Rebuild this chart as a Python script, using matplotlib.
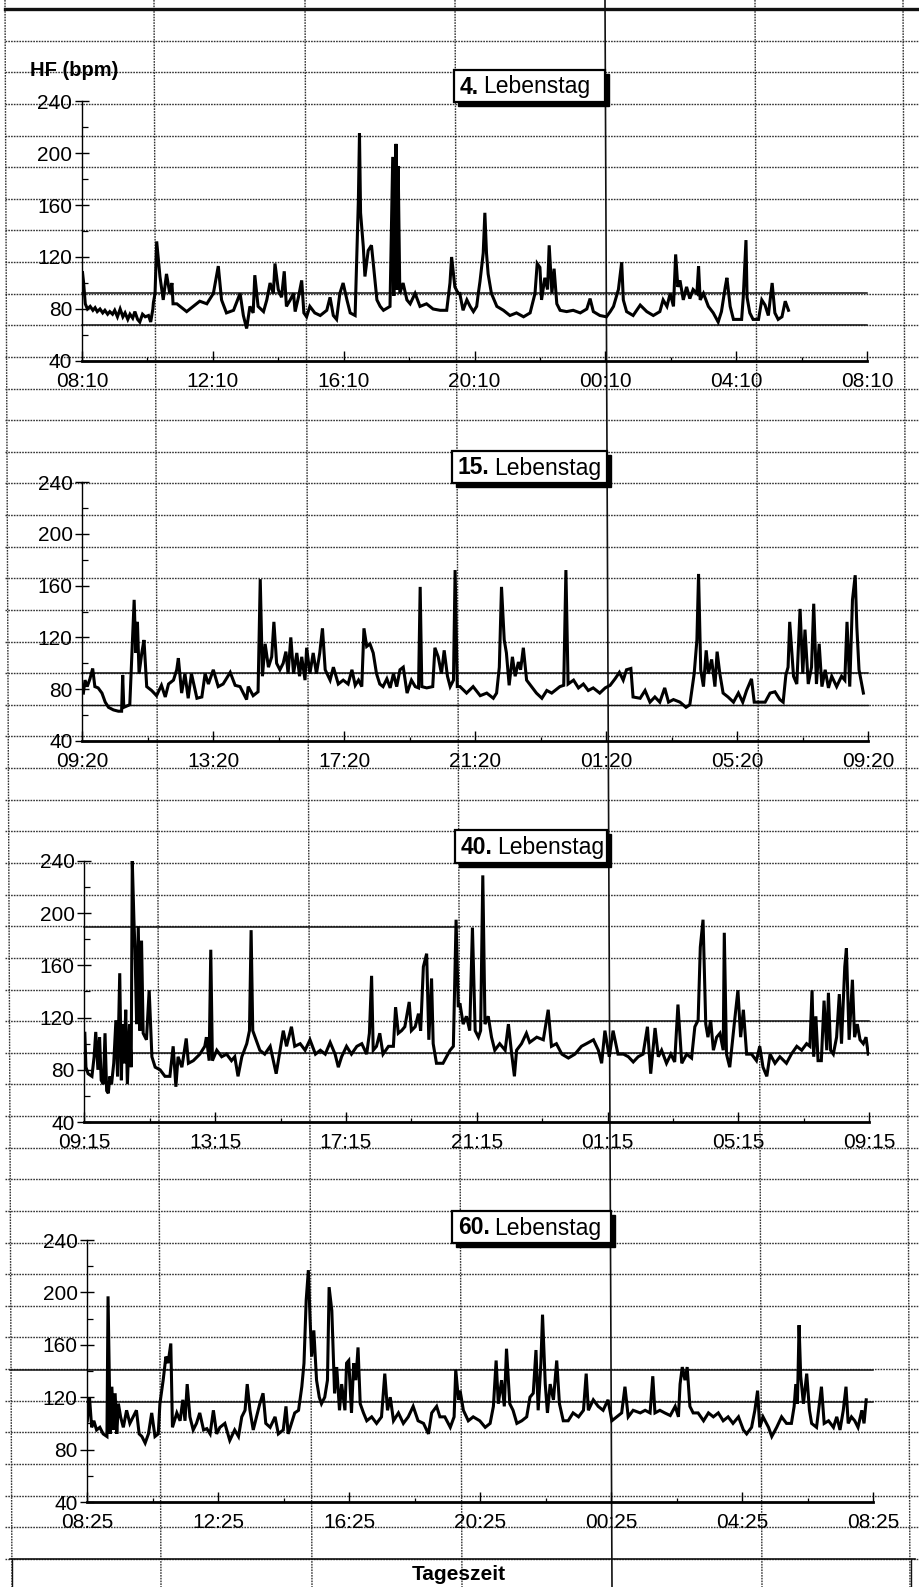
import matplotlib
matplotlib.use("Agg")
import matplotlib.pyplot as plt
from matplotlib.patches import Rectangle

plt.rcParams['font.family'] = ['Liberation Sans', 'DejaVu Sans']

# ---------------- data (minutes after recording start, heart rate in bpm) ----------------
day1_t = [1, 3, 6, 10, 15, 20, 24, 28, 33, 38, 42, 47, 51, 56, 60, 65, 70, 75, 79, 84,
          88, 93, 97, 102, 106, 111, 116, 122, 126, 130,
          131, 134, 137, 143, 149, 155, 161, 165, 167, 174,
          186, 192, 204, 216, 229, 241, 250, 256, 265, 278, 290, 296, 302, 308, 314, 317, 323, 333, 339, 345,
          351, 354, 360, 366, 371, 375, 382, 388, 391, 397, 403, 407, 412, 418, 427, 437, 449, 455, 461, 467,
          473, 479, 486, 492, 501, 507, 509, 511, 516, 519, 525, 531, 538, 541, 547, 553, 565, 570, 572, 573,
          575, 576, 578, 580, 583, 589, 596, 602, 611, 620, 632, 644, 657, 669, 675, 678, 684, 690,
          693, 699, 706, 712, 718, 724, 727, 730, 736, 739, 742, 745, 751, 761, 773, 785, 797, 810, 822, 831,
          835, 840, 843, 849, 854, 857, 862, 866, 871, 877, 889, 901, 914, 926, 932, 938, 950, 962, 969, 975,
          984, 990, 993, 999, 1011, 1024, 1036, 1048, 1060, 1066, 1073, 1079, 1085, 1089, 1093, 1097, 1103, 1109,
          1115, 1121, 1128, 1131, 1134, 1140, 1149, 1158, 1167, 1173, 1180, 1183, 1189, 1195, 1201, 1210, 1213,
          1218, 1220, 1225, 1231, 1241, 1247, 1253, 1259, 1266, 1271, 1277, 1284, 1290, 1296]
day1_hf = [108, 100, 84, 80, 82, 79, 81, 78, 80, 77, 79, 76, 78, 76, 79, 74, 80, 74, 77, 72,
           76, 73, 78, 72, 70, 76, 74, 75, 70, 80,
           85, 92, 132, 105, 87, 107, 92, 100, 84, 84,
           80, 78, 82, 86, 84, 92, 113, 87, 77, 79, 92, 75, 65, 82, 77, 106, 82, 78, 87, 100,
           92, 115, 95, 89, 109, 82, 87, 92, 78, 89, 102, 77, 74, 82, 77, 75, 79, 89, 75, 72,
           92, 100, 87, 77, 75, 164, 215, 154, 128, 105, 125, 129, 100, 87, 82, 79, 82, 197, 90, 195,
           100, 207, 95, 190, 92, 100, 87, 84, 92, 82, 84, 80, 79, 79, 100, 120, 97, 92,
           92, 79, 87, 82, 78, 82, 92, 101, 123, 154, 123, 107, 92, 82, 79, 75, 77, 74, 77, 92,
           115, 112, 87, 104, 95, 129, 92, 111, 84, 79, 78, 79, 77, 80, 88, 78, 75, 74, 78, 82,
           95, 116, 87, 78, 75, 83, 78, 75, 78, 87, 82, 92, 82, 122, 97, 102, 87, 97,
           88, 95, 92, 113, 87, 92, 82, 77, 70, 78, 97, 104, 82, 72, 72, 72, 89,
           133, 89, 77, 72, 72, 87, 83, 75, 100, 77, 72, 74, 86, 79]

day15_t = [2, 5, 9, 14, 19, 23, 29, 36, 42, 48, 57, 66, 72, 74, 76, 87, 92, 95, 98, 101,
           104, 109, 113, 118, 127, 136, 145, 152, 158, 167, 173, 176, 182, 188, 194, 200, 210, 219, 225, 231,
           240, 249, 258, 271, 280, 289, 301, 304, 313, 322, 326, 330, 335, 341, 347, 351, 356, 362, 368, 373,
           377, 382, 387, 393, 398, 402, 408, 411, 417, 423, 429, 435, 440, 445, 454, 460, 469, 478, 487, 494,
           500, 506, 512, 516, 521, 527, 533, 539, 545, 551, 558, 564, 570, 576, 582, 588, 595, 603, 610, 616,
           619, 622, 631, 642, 646, 652, 658, 663, 669, 674, 680, 683, 687,
           692, 704, 716, 729, 741, 753, 759, 764, 768, 773, 777, 782, 788, 793, 799, 803, 808, 814, 823, 832,
           842, 851, 860, 875, 882, 886, 890, 900, 909, 918, 927, 936, 948, 958, 967, 976, 984, 991, 997, 1005,
           1009, 1022, 1031, 1040, 1049, 1058, 1067, 1074, 1083, 1095, 1106, 1113, 1121, 1126, 1129, 1133, 1138,
           1143, 1147, 1153, 1159, 1163, 1168, 1174, 1183, 1193, 1202, 1210, 1217, 1226, 1231, 1238, 1251, 1260,
           1269, 1278, 1284, 1289, 1293, 1296, 1303, 1309, 1315, 1320, 1324, 1330, 1336, 1340, 1345, 1350, 1355,
           1361, 1367, 1373, 1382, 1391, 1397, 1401, 1406, 1411, 1416, 1419, 1423, 1431]
day15_hf = [77, 87, 82, 88, 96, 82, 81, 77, 70, 66, 64, 63, 63, 91, 66, 68, 118, 149, 108, 132,
            92, 108, 118, 82, 79, 75, 83, 74, 84, 87, 95, 104, 77, 92, 73, 92, 73, 74, 92, 84,
            95, 82, 84, 93, 83, 82, 72, 82, 75, 78, 165, 90, 115, 97, 105, 132, 100, 95, 100, 109,
            92, 120, 92, 108, 90, 105, 87, 112, 92, 108, 92, 108, 127, 95, 87, 97, 84, 87, 84, 95,
            83, 87, 82, 127, 113, 115, 108, 92, 84, 82, 88, 81, 92, 82, 95, 97, 77, 87, 82, 81,
            159, 82, 81, 82, 112, 105, 92, 110, 90, 82, 87, 172, 82,
            82, 77, 82, 75, 77, 73, 77, 97, 159, 118, 108, 83, 105, 90, 101, 95, 112, 87, 82, 77,
            73, 79, 77, 82, 83, 172, 84, 87, 81, 84, 79, 81, 77, 81, 83, 88, 93, 87, 95, 96,
            74, 73, 79, 70, 74, 70, 81, 70, 72, 70, 66, 68, 92, 118, 169, 95, 82,
            110, 92, 103, 82, 109, 92, 77, 74, 70, 77, 70, 79, 88, 70, 70, 70, 77,
            78, 72, 70, 91, 97, 132, 90, 84, 142, 92, 126, 84, 97, 146, 84, 115, 82,
            95, 81, 90, 82, 90, 87, 132, 82, 149, 168, 128, 95, 77]

day40_t = [1, 3, 7, 14, 18, 21, 25, 28, 31, 35, 38, 41, 44, 47, 50, 54, 58, 61, 65, 68,
           70, 73, 76, 79, 83, 86, 88, 91, 93, 96, 99, 102, 105, 108, 114, 119, 124, 130, 139, 148,
           157, 163, 168, 172, 179, 187, 191, 200, 212, 221, 224, 229, 232, 235, 243, 252, 261, 270, 276, 282,
           289, 298, 303, 306, 309, 315, 322, 331, 341, 352, 359, 365, 371, 380, 386, 396, 405, 414, 424, 433,
           442, 451, 460, 466, 472, 481, 490, 500, 509, 518, 523, 527, 530, 536, 542, 548, 558, 567, 571, 576,
           582, 588, 596, 600, 607, 613, 617, 622, 628, 632, 637, 640, 646, 658, 671, 677, 682, 686,
           689, 695, 701, 707, 712, 717, 723, 727, 731, 735, 741, 747, 753, 762, 772, 778, 784, 789, 793, 802,
           811, 817, 830, 842, 851, 857, 866, 876, 888, 900, 912, 921, 934, 943, 949, 955, 963, 970, 979, 989,
           998, 1007, 1016, 1025, 1033, 1039, 1047, 1053, 1059, 1068, 1076, 1083, 1089, 1096, 1105, 1114, 1120,
           1126, 1130, 1135, 1140, 1144, 1149, 1154, 1160, 1166, 1172, 1174, 1178, 1184, 1193, 1199, 1204, 1209,
           1215, 1224, 1233, 1239, 1245, 1252, 1258, 1267, 1276, 1288, 1297, 1307, 1316, 1325, 1331, 1335, 1338,
           1342, 1346, 1352, 1357, 1362, 1365, 1369, 1374, 1380, 1385, 1389, 1395, 1398, 1403, 1409, 1413, 1418,
           1423, 1429, 1434, 1438]
day40_hf = [108, 82, 77, 75, 90, 109, 80, 105, 72, 69, 108, 64, 62, 75, 69, 85, 118, 75, 154, 72,
            115, 85, 126, 69, 115, 82, 240, 195, 172, 115, 190, 110, 179, 108, 103, 141, 90, 82, 80, 75,
            75, 98, 67, 90, 82, 104, 85, 87, 92, 98, 105, 87, 172, 87, 95, 90, 92, 87, 90, 75,
            90, 100, 110, 187, 110, 103, 95, 92, 98, 77, 95, 110, 98, 113, 98, 100, 95, 103, 92, 95,
            92, 101, 92, 82, 90, 98, 92, 98, 100, 92, 108, 152, 95, 98, 108, 92, 98, 98, 128, 108,
            110, 113, 132, 110, 113, 123, 110, 159, 169, 103, 150, 100, 85, 85, 95, 98, 195, 128,
            131, 115, 121, 110, 189, 110, 105, 110, 229, 115, 121, 105, 95, 100, 95, 115, 92, 75, 95, 100,
            108, 101, 105, 103, 126, 98, 100, 92, 89, 92, 98, 100, 103, 95, 85, 110, 90, 110, 92, 92,
            90, 86, 90, 92, 113, 77, 112, 90, 95, 85, 92, 86, 130, 85, 92, 89, 113,
            118, 174, 195, 115, 105, 118, 95, 105, 108, 95, 185, 92, 82, 118, 141, 105, 126,
            92, 92, 87, 98, 82, 75, 92, 85, 90, 85, 92, 98, 95, 100, 98, 141, 90,
            121, 87, 87, 133, 95, 139, 95, 92, 105, 138, 100, 159, 173, 103, 149, 105, 115,
            103, 100, 105, 92]

day60_t = [0, 4, 8, 12, 17, 23, 29, 36, 38, 42, 45, 48, 51, 54, 57, 61, 66, 72, 78, 84,
           90, 95, 100, 106, 112, 118, 124, 130, 133, 139, 144, 148, 153, 156, 164, 170, 175, 179, 183, 188,
           194, 200, 206, 213, 219, 225, 231, 237, 243, 252, 261, 270, 277, 283, 289, 293, 298, 304, 310, 316,
           322, 327, 335, 344, 350, 359, 364, 368, 374, 380, 387, 393, 397, 401, 405, 408, 411, 415, 420, 425,
           429, 435, 440, 443, 448, 453, 457, 462, 466, 472, 475, 479, 484, 488, 492, 496, 500, 506, 512, 521,
           530, 539, 545, 550, 555, 561, 570, 579, 588, 597, 606, 616, 625, 631, 640, 646, 655, 665, 672, 675, 680,
           683, 689, 698, 707, 719, 729, 738, 744, 749, 753, 759, 764, 768, 774, 780, 787, 796, 805, 811, 817,
           822, 826, 831, 834, 839, 843, 848, 854, 860, 865, 872, 881, 890, 900, 909, 914, 918, 927, 936, 945,
           954, 961, 970, 979, 985, 991, 1000, 1013, 1022, 1031, 1036, 1040, 1049, 1058, 1068, 1077, 1083, 1086,
           1090, 1095, 1099, 1104, 1110, 1119, 1129, 1138, 1147, 1156, 1165, 1174, 1183, 1193, 1202, 1208, 1217,
           1223, 1228, 1232, 1238, 1248, 1254, 1263, 1272, 1281, 1290, 1295, 1298, 1301, 1304, 1307, 1312, 1318,
           1323, 1327, 1336, 1345, 1350, 1358, 1367, 1373, 1379, 1385, 1390, 1394, 1400, 1406, 1412, 1419, 1423,
           1427]
day60_hf = [102, 120, 97, 102, 95, 97, 92, 90, 197, 92, 128, 95, 123, 92, 115, 105, 97, 110, 100, 105,
            110, 92, 90, 85, 92, 108, 90, 92, 115, 133, 151, 146, 161, 97, 108, 102, 118, 102, 130, 105,
            95, 100, 108, 95, 96, 92, 110, 92, 97, 100, 87, 95, 90, 105, 110, 130, 110, 95, 105, 115,
            123, 100, 97, 105, 92, 95, 113, 92, 100, 108, 110, 128, 146, 194, 217, 181, 151, 171, 133, 120,
            115, 120, 133, 204, 186, 123, 143, 110, 130, 110, 146, 148, 108, 146, 133, 158, 115, 108, 102, 105,
            100, 105, 138, 110, 120, 102, 108, 100, 105, 113, 102, 100, 92, 108, 113, 105, 105, 97, 105, 141, 118,
            125, 110, 102, 105, 102, 97, 100, 113, 148, 115, 133, 113, 157, 115, 110, 100, 102, 105, 120, 123,
            156, 110, 146, 183, 130, 108, 130, 118, 148, 115, 102, 102, 108, 105, 110, 138, 110, 118, 113, 110,
            118, 102, 105, 108, 128, 105, 110, 108, 110, 108, 136, 108, 110, 108, 106, 113, 105, 130,
            143, 133, 143, 113, 108, 108, 102, 108, 105, 108, 102, 105, 100, 105, 95, 92, 97,
            110, 125, 97, 105, 97, 90, 97, 105, 100, 100, 113, 130, 115, 175, 136, 115, 138,
            110, 100, 97, 128, 100, 102, 97, 105, 95, 110, 128, 100, 105, 102, 97, 110, 100,
            118]

series_t = [day1_t, day15_t, day40_t, day60_t]
series_hf = [day1_hf, day15_hf, day40_hf, day60_hf]
day_numbers = ["4.", "15.", "40.", "60."]
day_word = "Lebenstag"
xtick_labels = [
    ["08:10", "12:10", "16:10", "20:10", "00:10", "04:10", "08:10"],
    ["09:20", "13:20", "17:20", "21:20", "01:20", "05:20", "09:20"],
    ["09:15", "13:15", "17:15", "21:15", "01:15", "05:15", "09:15"],
    ["08:25", "12:25", "16:25", "20:25", "00:25", "04:25", "08:25"],
]
xtick_minutes = [0, 240, 480, 720, 960, 1200, 1440]
yticks = [40, 80, 120, 160, 200, 240]
y_label = "HF (bpm)"
x_label = "Tageszeit"

for t, v in zip(series_t, series_hf):
    assert len(t) == len(v), (len(t), len(v))

# ---------------- layout (pixel boxes) ----------------
W, H = 920, 1587
fig = plt.figure(figsize=(W / 100, H / 100), dpi=100)
fig.patch.set_facecolor('white')

panel_px = [(82, 101, 867, 361), (82.3, 482, 868.3, 741),
            (84.3, 861, 869.3, 1122), (87.3, 1240, 873.3, 1502)]
title_px = [(454, 70, 605, 102), (452, 451, 607, 483),
            (455, 830, 607, 863), (452, 1211, 611, 1243)]

# background "graph paper"
bg = fig.add_axes([0, 0, 1, 1], zorder=0)
bg.set_xlim(0, W)
bg.set_ylim(H, 0)
bg.axis('off')
paper = '#333333'
skew = 7
for i in range(50):
    y = 9 + 31.63 * i
    bg.plot([5, 918], [y, y], color=paper, lw=1.0, ls=(0, (1.2, 0.8)))
for x in [5, 154, 305, 455, 605, 755, 903]:
    if x == 605:
        bg.plot([x, x + skew], [0, H], color='#111', lw=1.2)
    else:
        bg.plot([x, x + skew], [0, H], color=paper, lw=1.0, ls=(0, (1.2, 0.8)))
# darker ruled lines
solid_rows = [(9, 5, 918, 2.4), (293, 82, 867, 1.1), (325, 82, 867, 1.1),
              (673, 82, 868, 1.1), (705, 82, 868, 1.0),
              (927, 84, 460, 1.1), (1021, 460, 869, 1.1), (1053, 84, 869, 1.1),
              (1370, 10, 873, 1.1), (1402, 87, 873, 1.1), (1559, 10, 915, 1.2)]
for y, xa, xb, lw in solid_rows:
    bg.plot([xa, xb], [y, y], color='#111', lw=lw)
bg.plot([12, 12], [1559, H], color='#111', lw=1.0)
bg.plot([911, 911], [1559, H], color='#111', lw=1.0)

bg.text(30, 71, y_label, fontsize=14.5, fontweight='bold', ha='left', va='center')
bg.text(459, 1575, x_label, fontsize=15, fontweight='bold', ha='center', va='center')

narrow = ['Liberation Sans Narrow', 'Liberation Sans', 'DejaVu Sans']

# ---------------- panels ----------------
for k, (x0, y0, x1, y1) in enumerate(panel_px):
    ax = fig.add_axes([x0 / W, 1 - y1 / H, (x1 - x0) / W, (y1 - y0) / H], zorder=1)
    ax.set_facecolor('none')
    ax.plot(series_t[k], series_hf[k], color='black', lw=2.2, solid_joinstyle='miter')
    ax.set_xlim(0, 1440)
    ax.set_ylim(40, 240)
    ax.set_yticks(yticks)
    ax.set_yticks([60, 100, 140, 180, 220], minor=True)
    ax.set_xticks(xtick_minutes)
    ax.set_xticklabels(xtick_labels[k], family=narrow)
    ax.set_xticks([120, 360, 600, 840, 1080, 1320], minor=True)
    for s in ['top', 'right']:
        ax.spines[s].set_visible(False)
    ax.spines['left'].set_linewidth(1.0)
    ax.spines['bottom'].set_linewidth(2.0)
    ax.tick_params(axis='y', which='major', direction='inout', length=10, width=1.0,
                   labelsize=15, pad=2)
    ax.tick_params(axis='y', which='minor', direction='in', length=4, width=0.9)
    ax.tick_params(axis='x', which='major', direction='in', length=7, width=1.0,
                   labelsize=15, pad=8)
    ax.tick_params(axis='x', which='minor', direction='in', length=3, width=0.9)

# ---------------- title boxes ----------------
ov = fig.add_axes([0, 0, 1, 1], zorder=3)
ov.set_xlim(0, W)
ov.set_ylim(H, 0)
ov.axis('off')
ov.set_facecolor('none')
fig.canvas.draw()
renderer = fig.canvas.get_renderer()
for k, (bx0, by0, bx1, by1) in enumerate(title_px):
    ov.add_patch(Rectangle((bx0 + 4, by0 + 4), bx1 - bx0, by1 - by0, facecolor='black',
                           edgecolor='black', lw=1))
    ov.add_patch(Rectangle((bx0, by0), bx1 - bx0, by1 - by0, facecolor='white',
                           edgecolor='black', lw=1.6))
    yc = (by0 + by1) / 2 + 1
    t1 = ov.text(bx0 + 6, yc, day_numbers[k], fontsize=16.5, fontweight='bold',
                 ha='left', va='center')
    bb = t1.get_window_extent(renderer=renderer)
    x_end = bb.x1 * W / fig.bbox.width
    ov.text(x_end + 4, yc, day_word, fontsize=16.5, ha='left', va='center')

fig.savefig('out.png', dpi=100, facecolor='white')
